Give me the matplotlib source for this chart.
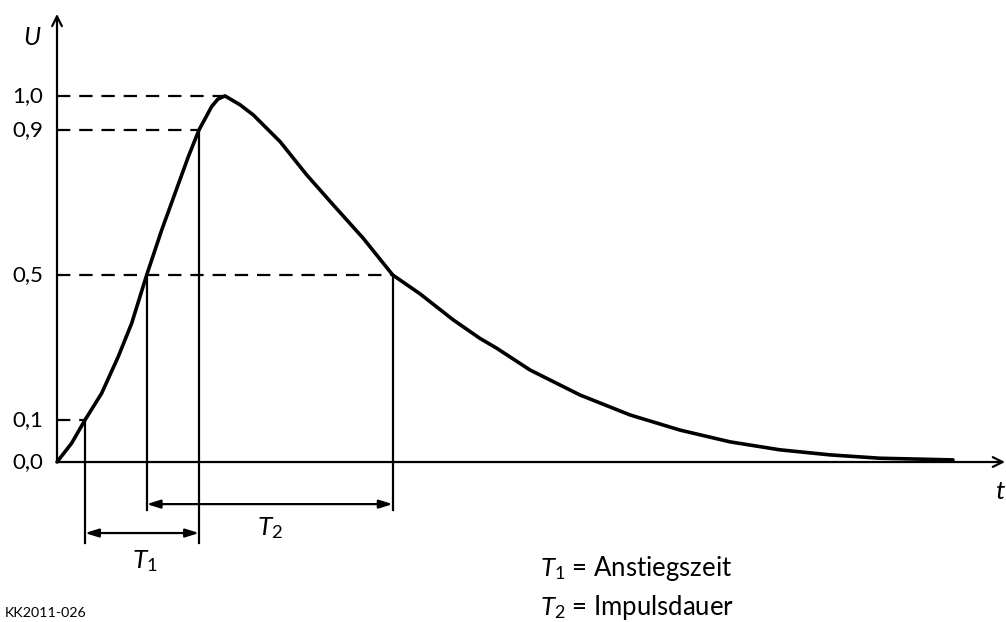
import numpy as np
import matplotlib
matplotlib.use('Agg')
import matplotlib.pyplot as plt

plt.rcParams['font.family'] = ['Lato', 'DejaVu Sans']
plt.rcParams['mathtext.fontset'] = 'custom'
plt.rcParams['mathtext.rm'] = 'Lato'
plt.rcParams['mathtext.it'] = 'Lato:italic'

# impulse curve (t in arbitrary units, U normalised to peak)
t_rise = [0.000, 0.147, 0.280, 0.447, 0.613, 0.747, 0.897, 1.047, 1.180, 1.313, 1.420, 1.547, 1.610, 1.680]
u_rise = [0.000, 0.045, 0.100, 0.174, 0.275, 0.367, 0.500, 0.624, 0.725, 0.826, 0.900, 0.969, 0.991, 1.000]
t_fall = [1.680, 1.830, 1.963, 2.230, 2.497, 2.763, 3.063, 3.357, 3.630, 3.963, 4.230, 4.397,
          4.730, 5.230, 5.730, 6.230, 6.730, 7.230, 7.730, 8.230, 8.960]
u_fall = [1.000, 0.974, 0.944, 0.868, 0.776, 0.693, 0.601, 0.500, 0.448, 0.376, 0.325, 0.298,
          0.238, 0.169, 0.114, 0.076, 0.048, 0.029, 0.017, 0.009, 0.005]

levels = [0.0, 0.1, 0.5, 0.9, 1.0]
level_labels = ['0,0', '0,1', '0,5', '0,9', '1,0']

# the sketch's U axis is not quite linear: spacing of the labelled levels
knots_u = [-1.0, 0.0, 0.1, 0.5, 0.9, 1.0, 2.0]
knots_p = [-366, 0, 42, 187, 332, 366, 732]


def fwd(u):
    return np.interp(u, knots_u, knots_p)


def inv(p):
    return np.interp(p, knots_p, knots_u)


t_end = 9.48
u_top = 1.224

fig = plt.figure(figsize=(10.06, 6.22), dpi=100)
ax = fig.add_axes([0, 0, 1, 1])
ax.set_yscale('function', functions=(fwd, inv))
ax.set_xlim(-0.57, 9.49)
ax.set_ylim(-0.437, 1.262)
ax.axis('off')

t_curve = t_rise + t_fall[1:]
u_curve = u_rise + u_fall[1:]
ax.plot(t_curve, u_curve, color='black', lw=2.6, solid_joinstyle='round',
        solid_capstyle='round', zorder=3)

# crossing times
t10 = np.interp(0.1, u_rise, t_rise)
t50r = np.interp(0.5, u_rise, t_rise)
t90 = np.interp(0.9, u_rise, t_rise)
t50f = np.interp(0.5, u_fall[::-1], t_fall[::-1])
t_peak = t_rise[-1]

# axes with arrows
arrow_kw = dict(arrowstyle='->,head_length=0.7,head_width=0.35', lw=1.6, color='black',
                shrinkA=0, shrinkB=0)
ax.annotate('', xy=(t_end, 0), xytext=(0, 0), arrowprops=arrow_kw)
ax.annotate('', xy=(0, u_top), xytext=(0, 0), arrowprops=arrow_kw)

# dashed level lines
dash = dict(color='black', lw=1.6, dashes=(6, 4))
ax.plot([0, t_peak], [1.0, 1.0], **dash)
ax.plot([0, t90], [0.9, 0.9], **dash)
ax.plot([0, t50f], [0.5, 0.5], **dash)
ax.plot([0, t10], [0.1, 0.1], **dash)

# vertical marker lines
y_low1 = -0.22
y_low2 = -0.13
ax.plot([t10, t10], [0.1, y_low1], color='black', lw=1.6)
ax.plot([t90, t90], [0.9, y_low1], color='black', lw=1.6)
ax.plot([t50r, t50r], [0.5, y_low2], color='black', lw=1.6)
ax.plot([t50f, t50f], [0.5, y_low2], color='black', lw=1.6)

# dimension arrows
dim_kw = dict(arrowstyle='<|-|>,head_length=0.8,head_width=0.25', lw=1.6, color='black',
              shrinkA=0, shrinkB=0)
ax.annotate('', xy=(t90, -0.194), xytext=(t10, -0.194), arrowprops=dim_kw)
ax.annotate('', xy=(t50f, -0.115), xytext=(t50r, -0.115), arrowprops=dim_kw)

ax.text((t10 + t90) / 2 + 0.03, -0.27, r'$T_{\mathrm{1}}$', fontsize=19, ha='center', va='center')
ax.text((t50r + t50f) / 2, -0.18, r'$T_{\mathrm{2}}$', fontsize=19, ha='center', va='center')

# tick labels
for lv, lab in zip(levels, level_labels):
    ax.text(-0.14, lv, lab, fontsize=16, ha='right', va='center')

ax.text(-0.25, 1.16, 'U', fontsize=18, style='italic', ha='center', va='center')
ax.text(9.43, -0.08, 't', fontsize=19, style='italic', ha='center', va='center')

ax.text(4.83, -0.292, r'$T_{\mathrm{1}}$ = Anstiegszeit', fontsize=18.5, ha='left', va='center')
ax.text(4.83, -0.397, r'$T_{\mathrm{2}}$ = Impulsdauer', fontsize=18.5, ha='left', va='center')
ax.text(-0.52, -0.413, 'KK2011-026', fontsize=10.3, ha='left', va='center')

fig.savefig('out.png', dpi=100)
